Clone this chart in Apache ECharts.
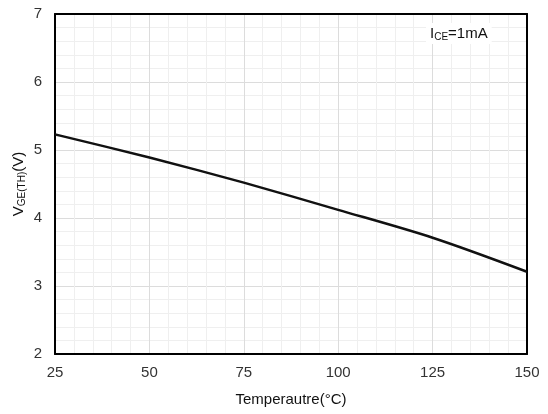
<!DOCTYPE html>
<html>
<head>
<meta charset="utf-8">
<script src="https://cdn.jsdelivr.net/npm/echarts@6/dist/echarts.min.js"></script>
<style>
  html, body { margin: 0; padding: 0; background: #fff; }
  #chart { width: 548px; height: 414px; }
</style>
</head>
<body>
<div id="chart"></div>
<script>
// 温度 (°C)
var temps = [25, 50, 75, 100, 125, 150]
// 阈值电压 VGE(TH) (V)
var vgeth = [5.23, 4.89, 4.52, 4.12, 3.71, 3.21]

var chart = echarts.init(document.getElementById('chart'))
var font = 'Liberation Sans, Arial, sans-serif'

// 上边和右边的框线
var frameAxis = {
  type: 'value',
  axisLine: { show: true, lineStyle: { color: '#000', width: 2 } },
  axisTick: { show: false },
  axisLabel: { show: false },
  splitLine: { show: false }
}

chart.setOption({
  animation: false,
  grid: {
    left: 55,
    right: 21,
    top: 14,
    bottom: 60,
    outerBoundsMode: 'none',
    containLabel: false
  },
  graphic: [
    {
      type: 'text',
      left: 426,
      top: 23,
      z: 10,
      style: {
        text: '{a|I}{s|CE}{a|=1mA}',
        backgroundColor: '#fff',
        padding: [2, 4],
        rich: {
          a: { fontSize: 15, fontFamily: font, fill: '#111' },
          s: { fontSize: 10, fontFamily: font, fill: '#111', padding: [7, 0, 0, 0] }
        }
      }
    }
  ],
  xAxis: [
    {
      type: 'value',
      min: 25,
      max: 150,
      interval: 25,
      name: 'Temperautre(°C)',
      nameLocation: 'middle',
      nameGap: 38,
      nameMoveOverlap: false,
      nameTextStyle: { fontSize: 15, color: '#111', fontFamily: font },
      axisLine: { show: true, lineStyle: { color: '#000', width: 2 } },
      axisTick: { show: false },
      axisLabel: { fontSize: 15, color: '#333', margin: 11, fontFamily: font },
      splitLine: { show: true, lineStyle: { color: '#dcdcdc', width: 1 } },
      minorTick: { show: false, splitNumber: 5 },
      minorSplitLine: { show: true, lineStyle: { color: '#efefef', width: 1 } }
    },
    Object.assign({ position: 'top', min: 25, max: 150 }, frameAxis)
  ],
  yAxis: [
    {
      type: 'value',
      min: 2,
      max: 7,
      interval: 1,
      name: '{a|V}{s|GE(TH)}{a|(V)}',
      nameLocation: 'middle',
      nameGap: 28,
      nameMoveOverlap: false,
      nameRotate: 90,
      nameTextStyle: {
        rich: {
          a: { fontSize: 15, color: '#111', fontFamily: font },
          s: { fontSize: 10, color: '#111', fontFamily: font, padding: [7, 0, 0, 0] }
        }
      },
      axisLine: { show: true, lineStyle: { color: '#000', width: 2 } },
      axisTick: { show: false },
      axisLabel: { fontSize: 15, color: '#333', margin: 13, fontFamily: font },
      splitLine: { show: true, lineStyle: { color: '#dcdcdc', width: 1 } },
      minorTick: { show: false, splitNumber: 5 },
      minorSplitLine: { show: true, lineStyle: { color: '#efefef', width: 1 } }
    },
    Object.assign({ position: 'right', min: 2, max: 7 }, frameAxis)
  ],
  series: [
    {
      type: 'line',
      data: temps.map(function (t, i) { return [t, vgeth[i]] }),
      smooth: 0.3,
      showSymbol: false,
      lineStyle: { color: '#111', width: 2.5 }
    }
  ]
})
</script>
</body>
</html>
